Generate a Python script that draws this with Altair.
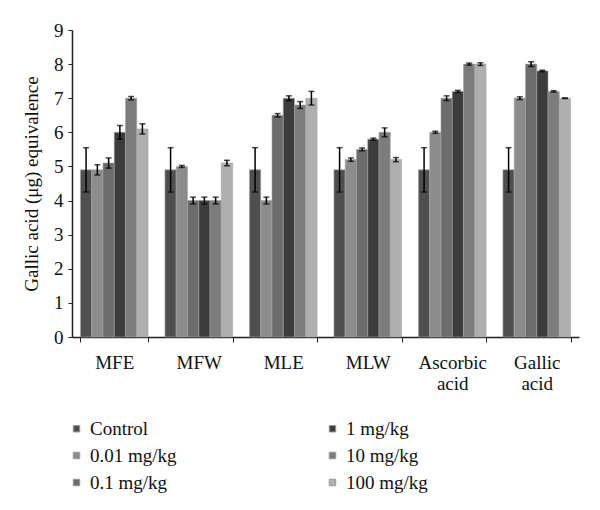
import altair as alt
import pandas as pd

groups = ["MFE", "MFW", "MLE", "MLW", "Ascorbic acid", "Gallic acid"]
doses = ["Control", "0.01 mg/kg", "0.1 mg/kg", "1 mg/kg", "10 mg/kg", "100 mg/kg"]
values = {
    "Control":    [4.9, 4.9, 4.9, 4.9, 4.9, 4.9],
    "0.01 mg/kg": [4.9, 5.0, 4.0, 5.2, 6.0, 7.0],
    "0.1 mg/kg":  [5.1, 4.0, 6.5, 5.5, 7.0, 8.0],
    "1 mg/kg":    [6.0, 4.0, 7.0, 5.8, 7.2, 7.8],
    "10 mg/kg":   [7.0, 4.0, 6.8, 6.0, 8.0, 7.2],
    "100 mg/kg":  [6.1, 5.1, 7.0, 5.2, 8.0, 7.0],
}
errors = {
    "Control":    [0.65, 0.65, 0.65, 0.65, 0.65, 0.65],
    "0.01 mg/kg": [0.15, 0.03, 0.1, 0.05, 0.03, 0.04],
    "0.1 mg/kg":  [0.15, 0.1, 0.05, 0.04, 0.07, 0.07],
    "1 mg/kg":    [0.2, 0.1, 0.07, 0.03, 0.03, 0.02],
    "10 mg/kg":   [0.05, 0.1, 0.1, 0.13, 0.03, 0.02],
    "100 mg/kg":  [0.15, 0.08, 0.2, 0.06, 0.04, 0.01],
}
dose_colors = ["#4f4f4f", "#8c8c8c", "#6c6c6c", "#3c3c3c", "#7c7c7c", "#afafaf"]
y_ticks = [0, 1, 2, 3, 4, 5, 6, 7, 8, 9]

rows = []
for d in doses:
    for i, g in enumerate(groups):
        v = values[d][i]
        e = errors[d][i]
        rows.append({"group": g, "dose": d, "value": v, "lo": v - e, "hi": v + e})
df = pd.DataFrame(rows)

FONT = "Liberation Serif"
FS = 19

x_axis = alt.Axis(labelAngle=0, labelFont=FONT, labelFontSize=FS, labelColor="#111",
                  labelPadding=11, labelLineHeight=21, labelExpr="split(datum.label, ' ')",
                  tickBand="extent", tickSize=5, tickColor="#222", domainColor="#222",
                  domainWidth=1.5)
x = alt.X("group:N", sort=groups, title=None,
          scale=alt.Scale(paddingInner=0.2, paddingOuter=0.1), axis=x_axis)
xo = alt.XOffset("dose:N", sort=doses, scale=alt.Scale(paddingInner=0.0))

y_axis = alt.Axis(values=y_ticks, tickCount=10, grid=False, labelFont=FONT, labelFontSize=FS,
                  labelColor="#111", titleFont=FONT, titleFontSize=FS, titleFontWeight="normal",
                  titleColor="#111", titlePadding=12, tickSize=4, tickColor="#222",
                  domainColor="#222", domainWidth=1.5, labelPadding=5, labelOverlap=False)
y_scale = alt.Scale(domain=[0, 9], nice=False)
TITLE = "Gallic acid (μg) equivalence"

base = alt.Chart(df)

bars = base.mark_bar(stroke="#a5a5a5", strokeWidth=0.6).encode(
    x=x,
    xOffset=xo,
    y=alt.Y("value:Q", title=TITLE, scale=y_scale, axis=y_axis),
    color=alt.Color("dose:N",
                    scale=alt.Scale(domain=doses, range=dose_colors),
                    legend=alt.Legend(title=None, orient="none", legendX=-5, legendY=389, columns=2,
                                      columnPadding=146, rowPadding=7, symbolType="square",
                                      symbolSize=42, symbolStrokeColor="#999", symbolStrokeWidth=1,
                                      labelFont=FONT, labelFontSize=FS, labelColor="#111",
                                      labelOffset=4)),
)

rules = base.mark_rule(color="black", strokeWidth=1.5).encode(
    x=x, xOffset=xo, y=alt.Y("lo:Q", title=TITLE, scale=y_scale, axis=y_axis), y2="hi:Q")
caps_lo = base.mark_tick(color="black", thickness=1.5, size=6).encode(
    x=x, xOffset=xo, y=alt.Y("lo:Q", title=TITLE, scale=y_scale, axis=y_axis))
caps_hi = base.mark_tick(color="black", thickness=1.5, size=6).encode(
    x=x, xOffset=xo, y=alt.Y("hi:Q", title=TITLE, scale=y_scale, axis=y_axis))

chart = alt.layer(bars, rules, caps_lo, caps_hi).properties(
    width=507, height=307,
    autosize=alt.AutoSizeParams(type="none"),
    padding={"left": 64, "top": 22, "right": 13, "bottom": 160},
).configure_view(stroke=None).configure_legend(labelFont=FONT, labelFontSize=FS)

chart.save("out.html", embed_options={"renderer": "svg", "actions": False})
